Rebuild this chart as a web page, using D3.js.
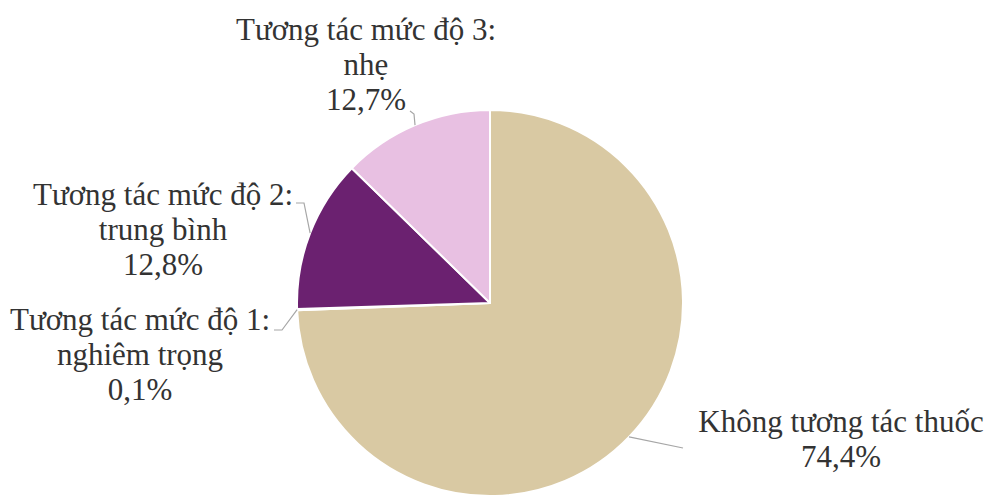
<!DOCTYPE html>
<html>
<head>
<meta charset="utf-8">
<script src="https://cdn.jsdelivr.net/npm/d3@7"></script>
<style>
  html, body { margin: 0; padding: 0; background: #fff; }
  svg { display: block; }
  .lbl { font-family: "Times New Roman", "Liberation Serif", Tinos, "DejaVu Serif", serif; }
</style>
</head>
<body>
<svg id="chart" width="998" height="498"></svg>
<script>
// Phân loại tương tác thuốc (%)
const categories = [
  "Không tương tác thuốc",
  "Tương tác mức độ 1: nghiêm trọng",
  "Tương tác mức độ 2: trung bình",
  "Tương tác mức độ 3: nhẹ"
];
const values = [74.4, 0.1, 12.8, 12.7];
const valueLabels = ["74,4%", "0,1%", "12,8%", "12,7%"];
const labelLines = [
  ["Không tương tác thuốc", "74,4%"],
  ["Tương tác mức độ 1:", "nghiêm trọng", "0,1%"],
  ["Tương tác mức độ 2:", "trung bình", "12,8%"],
  ["Tương tác mức độ 3:", "nhẹ", "12,7%"]
];
const colors = ["#d9c9a3", "#c8b48a", "#6b2170", "#e8c0e2"];

const width = 998, height = 498;
const cx = 490, cy = 303, radius = 193;
const fontSize = 31, lineGap = 35;

// label block placement: centre x and first baseline y
const labelPos = [
  { x: 841, y: 432 },
  { x: 140, y: 330 },
  { x: 163, y: 205 },
  { x: 366, y: 40 }
];
// leader: elbow points running from the label toward the slice
const leaderPts = [
  [[683, 448]],
  [[274, 330], [282, 330]],
  [[296, 203], [304, 203]],
  [[410, 111], [414, 114]]
];

const svg = d3.select("#chart");

const pie = d3.pie().sort(null).value(d => d).startAngle(0).endAngle(2 * Math.PI);
const arcs = pie(values);
const arc = d3.arc().innerRadius(0).outerRadius(radius);

const g = svg.append("g").attr("transform", `translate(${cx},${cy})`);
g.selectAll("path.slice")
  .data(arcs)
  .join("path")
  .attr("class", "slice")
  .attr("d", arc)
  .attr("fill", (d, i) => colors[i])
  .attr("stroke", "#ffffff")
  .attr("stroke-width", 2)
  .attr("stroke-linejoin", "round");

// leader lines from each label to the middle of its slice edge
const line = d3.line();
arcs.forEach((a, i) => {
  const mid = (a.startAngle + a.endAngle) / 2;
  const edge = [cx + radius * Math.sin(mid), cy - radius * Math.cos(mid)];
  const pts = leaderPts[i].concat([edge]);
  svg.append("path")
    .attr("d", line(pts))
    .attr("fill", "none")
    .attr("stroke", "#a6a6a6")
    .attr("stroke-width", 1.2);
});

// data labels
labelLines.forEach((lines, i) => {
  const t = svg.append("text")
    .attr("class", "lbl")
    .attr("x", labelPos[i].x)
    .attr("y", labelPos[i].y)
    .attr("text-anchor", "middle")
    .attr("font-size", fontSize)
    .attr("fill", "#333333");
  lines.forEach((s, k) => {
    t.append("tspan")
      .attr("x", labelPos[i].x)
      .attr("y", labelPos[i].y + k * lineGap)
      .text(s);
  });
});
</script>
</body>
</html>
